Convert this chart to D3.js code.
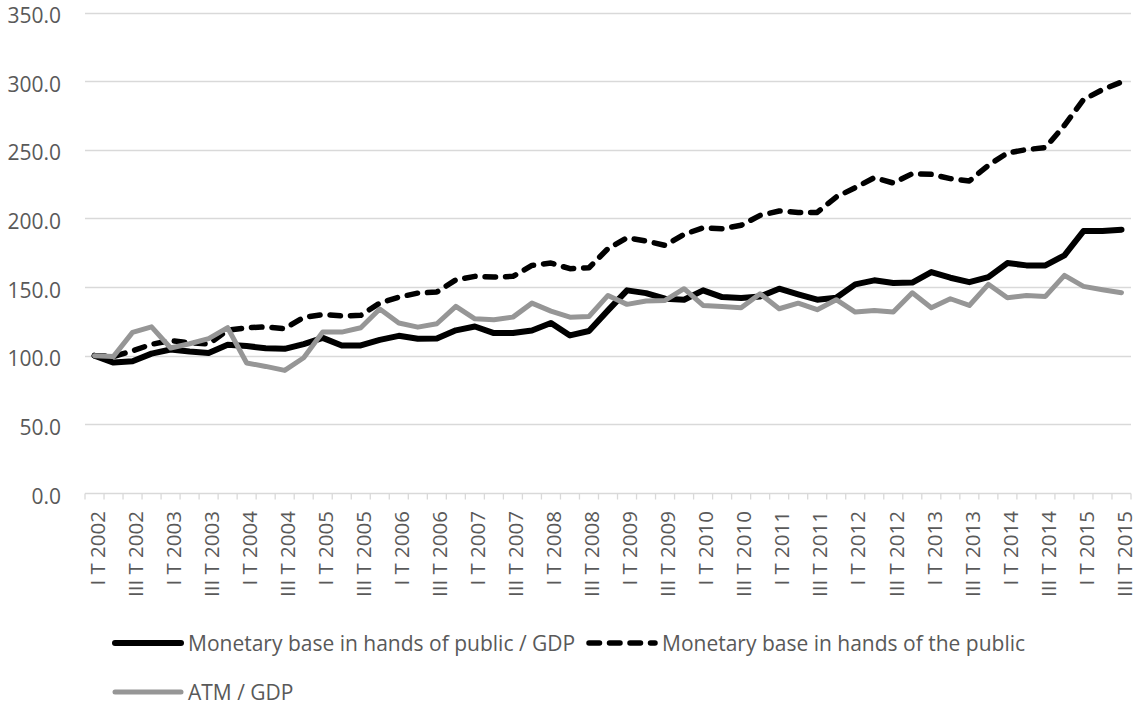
<!DOCTYPE html>
<html>
<head>
<meta charset="utf-8">
<script src="https://cdn.jsdelivr.net/npm/d3@7"></script>
<style>
  body { margin: 0; background: #fff; }
  text { font-family: "Open Sans", sans-serif; fill: #595959; }
</style>
</head>
<body>
<div class="chart"></div>
<script>
// quarters and years for the category axis
var years = d3.range(2002, 2016);
var quarters = ["I", "II", "III", "IV"];
var categories = [];
years.forEach(function (y) {
  quarters.forEach(function (q) {
    if (y === 2015 && q === "IV") return;
    categories.push(q + " T " + y);
  });
});

// Monetary base in hands of public / GDP
var mbGdp = [100, 95, 96, 101.5, 104.5, 103, 102, 108, 107, 105.5, 105, 108.5,
  113, 107.5, 107.5, 111.5, 114.5, 112.3, 112.5, 118.5, 121.3, 116.5, 116.5, 118.4,
  123.8, 114.8, 118, 133, 147.6, 145.6, 141.5, 140.8, 147.6, 142.7, 142, 143.2,
  148.8, 144.7, 140.8, 142.2, 152, 154.9, 152.9, 153.3, 160.9, 156.8, 153.6, 157.3,
  167.5, 165.8, 165.8, 173.1, 190.8, 190.8, 191.8];

// Monetary base in hands of the public
var mbPublic = [100, 99.5, 103.5, 108.3, 111, 109.5, 108.5, 118.5, 120.4, 121, 119.7, 128,
  130, 129, 129.4, 138.4, 142.7, 145.6, 146.4, 155.3, 157.8, 157.3, 157.8, 165.8,
  167.5, 163.4, 164.1, 178, 186, 183.5, 180.4, 188.4, 193.2, 192.5, 195, 202.2,
  205.4, 204.4, 204.4, 215.6, 222.4, 229.7, 225.8, 232.6, 232.1, 229, 227.3, 238.7,
  247.7, 250.1, 251.6, 267.8, 286.5, 293.8, 299.4];

// ATM / GDP
var atmGdp = [100, 99.5, 117, 121, 105.6, 108.7, 112.4, 120.4, 94.7, 92.2, 89.3, 98.5,
  117.2, 117.2, 120.4, 134, 123.8, 120.8, 123.3, 135.9, 126.9, 126.2, 128.1, 138.3,
  132.5, 128.1, 128.6, 143.9, 137.4, 139.8, 140.3, 148.8, 136.6, 135.9, 134.9, 145.1,
  134.2, 138.3, 133.5, 140.8, 131.8, 133, 131.8, 145.8, 134.9, 141.5, 136.6, 152,
  142.2, 143.9, 143.2, 158.5, 150.5, 148.1, 145.9];

var yTicks = [0, 50, 100, 150, 200, 250, 300, 350];

var svgWidth = 1137;
var svgHeight = 710;
var fontSize = "21px";

var plot = { left: 85, right: 1131, top: 12.5, bottom: 493 };

var svg = d3.select(".chart")
  .append("svg")
  .attr("width", svgWidth)
  .attr("height", svgHeight);

var x = d3.scaleBand()
  .domain(categories)
  .range([plot.left, plot.right])
  .padding(0);

var y = d3.scaleLinear()
  .domain([0, 350])
  .range([plot.bottom, plot.top]);

function cx(i) { return x(categories[i]) + x.bandwidth() / 2; }

// gridlines
svg.append("g")
  .selectAll("line")
  .data(yTicks.filter(d => d > 0))
  .enter()
  .append("line")
  .attr("x1", plot.left)
  .attr("x2", plot.right)
  .attr("y1", d => Math.round(y(d)) + 0.5)
  .attr("y2", d => Math.round(y(d)) + 0.5)
  .attr("stroke", "#d9d9d9")
  .attr("stroke-width", 1.3);

// y labels
svg.append("g")
  .selectAll("text")
  .data(yTicks)
  .enter()
  .append("text")
  .attr("x", 61)
  .attr("y", d => y(d))
  .attr("dy", "0.5em")
  .attr("text-anchor", "end")
  .attr("font-size", fontSize)
  .text(d => d3.format(".1f")(d));

// x axis line + tick marks at category boundaries
var axisY = Math.round(plot.bottom) + 0.5;
svg.append("line")
  .attr("x1", plot.left)
  .attr("x2", plot.right)
  .attr("y1", axisY)
  .attr("y2", axisY)
  .attr("stroke", "#d9d9d9")
  .attr("stroke-width", 1.3);

var bounds = categories.map(c => x(c)).concat([plot.right]);
svg.append("g")
  .selectAll("line")
  .data(bounds)
  .enter()
  .append("line")
  .attr("x1", d => d)
  .attr("x2", d => d)
  .attr("y1", axisY)
  .attr("y2", axisY + 6)
  .attr("stroke", "#d9d9d9")
  .attr("stroke-width", 1.3);

// x labels every second quarter
var xAxis = d3.axisBottom(x)
  .tickValues(categories.filter((c, i) => i % 2 === 0))
  .tickSize(0);

var xg = svg.append("g")
  .attr("transform", `translate(0, ${plot.bottom})`)
  .call(xAxis);
xg.select(".domain").remove();
xg.selectAll("text")
  .attr("font-family", "Open Sans, sans-serif")
  .attr("font-size", "20.5px")
  .attr("fill", "#595959")
  .attr("text-anchor", "end")
  .attr("transform", "rotate(-90)")
  .attr("x", -18)
  .attr("y", 0)
  .attr("dy", "0.5em");

// series lines
var line = d3.line()
  .x((d, i) => cx(i))
  .y(d => y(d));

var series = [
  { name: "Monetary base in hands of public / GDP", values: mbGdp, color: "#000", width: 6, dash: null },
  { name: "Monetary base in hands of the public", values: mbPublic, color: "#000", width: 5.5, dash: "10.5,10" },
  { name: "ATM / GDP", values: atmGdp, color: "#969696", width: 5, dash: null }
];

series.forEach(function (s) {
  svg.append("path")
    .datum(s.values)
    .attr("d", line)
    .attr("fill", "none")
    .attr("stroke", s.color)
    .attr("stroke-width", s.width)
    .attr("stroke-linejoin", "round")
    .attr("stroke-linecap", "round")
    .attr("stroke-dasharray", s.dash);
});

// legend
var legendPos = [
  { lx: 115, ly: 643 },
  { lx: 589, ly: 643 },
  { lx: 115, ly: 692 }
];

series.forEach(function (s, i) {
  var p = legendPos[i];
  var g = svg.append("g").attr("transform", `translate(${p.lx}, ${p.ly})`);
  g.append("line")
    .attr("x1", 0)
    .attr("x2", 66)
    .attr("y1", 0)
    .attr("y2", 0)
    .attr("stroke", s.color)
    .attr("stroke-width", s.width)
    .attr("stroke-linecap", "round")
    .attr("stroke-dasharray", s.dash);
  g.append("text")
    .attr("x", 73)
    .attr("y", 0)
    .attr("dy", "0.36em")
    .attr("font-size", fontSize)
    .text(s.name);
});
</script>
</body>
</html>
